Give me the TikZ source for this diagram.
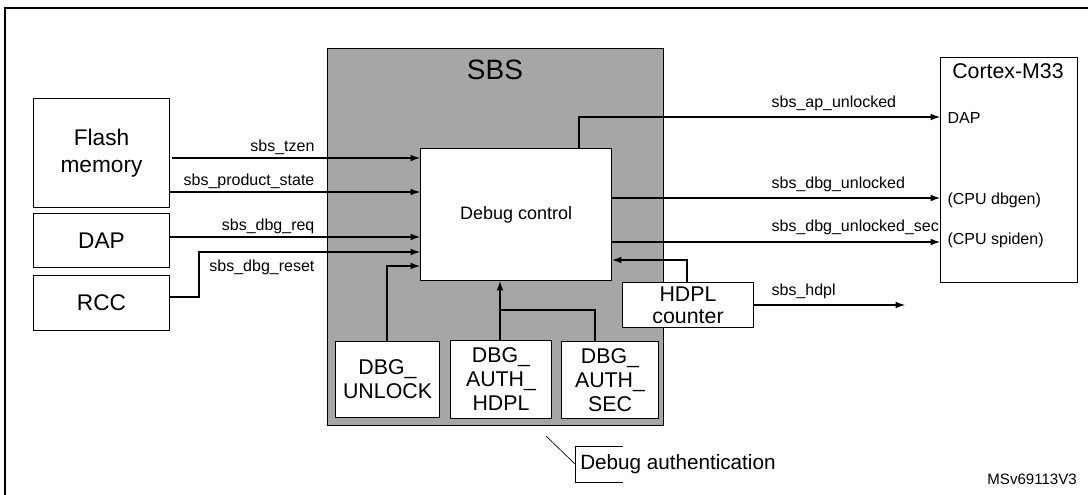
\documentclass[tikz,border=0pt]{standalone}
\usepackage{fontspec}
\setmainfont{Liberation Sans}
\usetikzlibrary{arrows.meta}
\begin{document}
\begin{tikzpicture}[x=0.75pt,y=-0.75pt,
  box/.style={draw,fill=white,line width=0.8pt,align=center,inner sep=0pt},
  arr/.style={-{Latex[length=7pt,width=5pt]},line width=0.8pt},
  ln/.style={line width=0.8pt},
  lab/.style={font=\fontsize{12}{13}\selectfont,inner sep=1pt},
  big/.style={font=\fontsize{16}{18}\selectfont}]
\useasboundingbox (0,0) rectangle (1088,495);
\draw[line width=1.3pt] (5,500) -- (5,8) -- (1095,8) -- (1095,500);
\node[draw,fill=black!35,line width=0.8pt,minimum width=336*0.75pt,minimum height=377*0.75pt,anchor=north west,inner sep=0pt] (sbs) at (327,48) {};
\node[font=\fontsize{21}{23}\selectfont] (sbst) at (495,70) {SBS};
\node[box,minimum width=191*0.75pt,minimum height=132*0.75pt,anchor=north west,font=\fontsize{13.5}{15}\selectfont] (dc) at (420,148) {Debug control};
\node[box,minimum width=136*0.75pt,minimum height=109*0.75pt,anchor=north west,text width=90pt,font=\fontsize{17}{20}\selectfont] (flash) at (33,98) {Flash\\memory};
\node[box,big,minimum width=136*0.75pt,minimum height=54*0.75pt,anchor=north west,font=\fontsize{17}{20}\selectfont] (dap) at (33,213) {DAP};
\node[box,big,minimum width=136*0.75pt,minimum height=55*0.75pt,anchor=north west,font=\fontsize{17}{20}\selectfont] (rcc) at (33,275) {RCC};
\node[box,minimum width=137*0.75pt,minimum height=225*0.75pt,anchor=north west] (cm) at (940,57) {};
\node[font=\fontsize{16}{18}\selectfont] (cmt) at (1008,71) {Cortex-M33};
\node[lab,anchor=west] (cdap) at (946,118) {DAP};
\node[lab,anchor=west] (cdbg) at (946,200) {(CPU dbgen)};
\node[lab,anchor=west] (cspi) at (946,240) {(CPU spiden)};
\node[box,minimum width=131*0.75pt,minimum height=45*0.75pt,anchor=north west,text width=80pt,font=\fontsize{16}{16.5}\selectfont] (hdpl) at (622,282) {HDPL\\counter};
\node[box,big,minimum width=104*0.75pt,minimum height=76*0.75pt,anchor=north west,text width=70pt] (unl) at (335,341) {DBG\_\\UNLOCK};
\node[box,big,minimum width=101*0.75pt,minimum height=78*0.75pt,anchor=north west,text width=70pt] (ah) at (450,340) {DBG\_\\AUTH\_\\HDPL};
\node[box,big,minimum width=97*0.75pt,minimum height=77*0.75pt,anchor=north west,text width=70pt] (as) at (561,341) {DBG\_\\AUTH\_\\SEC};
% inputs
\draw[arr] (172,158) -- (dc.west|-0,158);
\node[lab,anchor=south east] at (316,156) {sbs\_tzen};
\draw[arr] (flash.east|-0,192) -- (dc.west|-0,192);
\node[lab,anchor=south east] at (316,190) {sbs\_product\_state};
\draw[arr] (dap.east|-0,237) -- (dc.west|-0,237);
\node[lab,anchor=south east] at (316,235) {sbs\_dbg\_req};
\draw[arr] (rcc.east|-0,297) -- (199,297) -- (199,252) -- (dc.west|-0,252);
\node[lab,anchor=south east] at (316,276) {sbs\_dbg\_reset};
\draw[arr] (unl.north-|387,0) -- (387,266) -- (dc.west|-0,266);
\draw[arr] (ah.north-|500,0) -- (dc.south-|500,0);
\draw[ln] (as.north-|595,0) -- (595,310) -- (500,310);
\draw[arr] (hdpl.north-|687,0) -- (687,260) -- (dc.east|-0,260);
% outputs
\draw[arr] (dc.north-|579,0) -- (579,117) -- (cm.west|-0,117);
\node[lab,anchor=south west] at (770,112) {sbs\_ap\_unlocked};
\draw[arr] (dc.east|-0,198) -- (cm.west|-0,198);
\node[lab,anchor=south west] at (770,193) {sbs\_dbg\_unlocked};
\draw[arr] (dc.east|-0,242) -- (cm.west|-0,242);
\begin{scope}
\clip (765,200) rectangle (939,240);
\node[lab,anchor=south west] at (770,236) {sbs\_dbg\_unlocked\_sec};
\end{scope}
\coordinate (hend) at (905,305);
\draw[arr] (hdpl.east|-0,305) -- (hend);
\node[lab,anchor=south west] at (770,300) {sbs\_hdpl};
% callout
\coordinate (c0) at (546,436);
\draw[line width=0.5pt] (c0) -- (575,464);
\draw[line width=0.5pt] (623,446) -- (575,446) -- (575,482) -- (623,482);
\node[anchor=west,font=\fontsize{15.5}{17}\selectfont,inner sep=0pt] (da) at (580,464) {Debug authentication};
\node[anchor=east,font=\fontsize{11.3}{12}\selectfont,inner sep=0pt] (ms) at (1077,479) {MSv69113V3};
\end{tikzpicture}
\end{document}
